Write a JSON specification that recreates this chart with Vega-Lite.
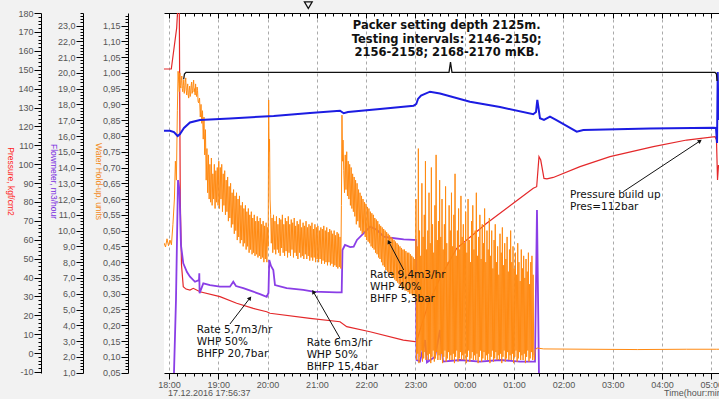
{
"$schema": "https://vega.github.io/schema/vega-lite/v6.json",
"width": 555, "height": 360,
"autosize": {"type": "none"},
"padding": {"left": 164, "top": 13, "right": 0, "bottom": 26},
"background": "#f2f2f2",
"config": {"view": {"fill": "white", "stroke": null}, "font": "Liberation Sans"},
"datasets": {
"pressure": [
{"t":17.899,"p":150.4},{"t":18.047,"p":150.4},{"t":18.156,"p":172.1},{"t":18.179,"p":183.0},{"t":18.209,"p":183.0},{"t":18.229,"p":81.1},{"t":18.254,"p":46.6},{"t":18.29,"p":35.2},{"t":18.345,"p":33.9},{"t":18.426,"p":33.4},{"t":18.493,"p":34.3},{"t":18.629,"p":32.5},{"t":19.034,"p":29.9},{"t":19.373,"p":26.4},{"t":19.71,"p":23.7},{"t":19.982,"p":21.9},{"t":20.049,"p":21.1},{"t":20.86,"p":18.4},{"t":21.469,"p":16.6},{"t":21.605,"p":14.0},{"t":22.077,"p":11.3},{"t":22.753,"p":6.9},{"t":23.024,"p":6.0},{"t":23.091,"p":12.2},{"t":23.254,"p":25.5},{"t":23.497,"p":39.8},{"t":23.836,"p":55.5},{"t":24.444,"p":68.7},{"t":24.984,"p":79.3},{"t":25.389,"p":87.3},{"t":25.458,"p":88.1},{"t":25.505,"p":104.0},{"t":25.54,"p":102.2},{"t":25.606,"p":92.5},{"t":25.667,"p":92.2},{"t":25.795,"p":93.0},{"t":26.337,"p":98.7},{"t":26.945,"p":104.0},{"t":27.824,"p":109.3},{"t":28.501,"p":112.8},{"t":29.075,"p":114.6},{"t":29.105,"p":112.8},{"t":29.126,"p":91.6},{"t":29.146,"p":99.6}
],
"flow": [
{"t":17.899,"f":0.9},{"t":18.101,"f":0.9},{"t":18.142,"f":5.6},{"t":18.183,"f":13.21},{"t":18.213,"f":12.58},{"t":18.243,"f":9.09},{"t":18.29,"f":7.93},{"t":18.365,"f":7.38},{"t":18.426,"f":7.08},{"t":18.527,"f":6.76},{"t":18.609,"f":6.87},{"t":18.615,"f":7.3},{"t":18.621,"f":6.03},{"t":18.696,"f":6.66},{"t":18.832,"f":6.55},{"t":19.034,"f":6.45},{"t":19.237,"f":6.45},{"t":19.304,"f":6.76},{"t":19.359,"f":6.49},{"t":19.507,"f":6.35},{"t":19.71,"f":6.13},{"t":19.846,"f":5.98},{"t":19.982,"f":5.81},{"t":20.018,"f":6.05},{"t":20.034,"f":8.14},{"t":20.069,"f":7.76},{"t":20.116,"f":7.51},{"t":20.15,"f":6.55},{"t":20.387,"f":6.35},{"t":20.724,"f":6.24},{"t":20.927,"f":6.13},{"t":21.402,"f":6.09},{"t":21.503,"f":6.09},{"t":21.519,"f":8.77},{"t":21.57,"f":9.09},{"t":21.677,"f":8.96},{"t":21.746,"f":8.98},{"t":21.813,"f":9.41},{"t":22.083,"f":10.25},{"t":22.219,"f":10.04},{"t":22.355,"f":9.62},{"t":22.489,"f":9.55},{"t":22.761,"f":9.45},{"t":22.963,"f":9.41},{"t":23.01,"f":9.41},{"t":23.02,"f":1.8},{"t":23.091,"f":1.7},{"t":23.193,"f":3.07},{"t":23.233,"f":1.65},{"t":23.396,"f":2.0},{"t":23.497,"f":3.7},{"t":23.558,"f":1.7},{"t":23.903,"f":1.8},{"t":24.308,"f":1.7},{"t":24.714,"f":1.8},{"t":25.12,"f":1.7},{"t":25.424,"f":1.7},{"t":25.464,"f":11.31},{"t":25.505,"f":0.8},{"t":29.095,"f":0.8}
],
"water": [
{"t":17.899,"w":0.461},{"t":17.93,"w":0.448},{"t":17.96,"w":0.474},{"t":17.99,"w":0.452},{"t":18.02,"w":0.47},{"t":18.05,"w":0.455},{"t":18.08,"w":0.52},{"t":18.11,"w":0.6},{"t":18.13,"w":0.72},{"t":18.15,"w":0.66},{"t":18.17,"w":0.88},{"t":18.185,"w":1.005},
{"t":18.2,"w":0.965},{"t":18.21,"w":0.94},{"t":18.22,"w":1.0},{"t":18.23,"w":0.96},{"t":18.24,"w":0.952},{"t":18.25,"w":0.975},{"t":18.26,"w":0.99},{"t":18.27,"w":0.95},{"t":18.28,"w":0.94},{"t":18.29,"w":0.96},{"t":18.3,"w":0.978},{"t":18.31,"w":0.935},{"t":18.32,"w":0.946},{"t":18.33,"w":0.97},{"t":18.34,"w":0.984},{"t":18.35,"w":0.945},{"t":18.36,"w":0.93},{"t":18.37,"w":0.952},{"t":18.38,"w":0.965},{"t":18.39,"w":0.93},{"t":18.4,"w":0.92},{"t":18.41,"w":0.945},{"t":18.42,"w":0.958},{"t":18.43,"w":0.925},{"t":18.44,"w":0.933},{"t":18.45,"w":0.96},{"t":18.46,"w":0.971},{"t":18.47,"w":0.935},{"t":18.48,"w":0.944},{"t":18.49,"w":0.962},{"t":18.5,"w":0.977},{"t":18.51,"w":0.94},{"t":18.52,"w":0.95},{"t":18.53,"w":0.93},{"t":18.54,"w":0.965},{"t":18.55,"w":0.935},{"t":18.56,"w":0.925},{"t":18.57,"w":0.955},{"t":18.58,"w":0.944},{"t":18.59,"w":0.91},{"t":18.6,"w":0.905},
{"t":18.62,"w":0.92},{"t":18.635,"w":0.86},{"t":18.65,"w":0.9},{"t":18.665,"w":0.84},{"t":18.68,"w":0.88},{"t":18.695,"w":0.79},{"t":18.71,"w":0.86},{"t":18.725,"w":0.74},{"t":18.74,"w":0.82},{"t":18.755,"w":0.66},{"t":18.77,"w":0.76},{"t":18.785,"w":0.62},{"t":18.8,"w":0.74},{"t":18.815,"w":0.6},{"t":18.83,"w":0.71},{"t":18.845,"w":0.59},{"t":18.86,"w":0.73},{"t":18.875,"w":0.58},{"t":18.89,"w":0.68},{"t":18.905,"w":0.6},{"t":18.92,"w":0.71},{"t":18.935,"w":0.57},{"t":18.95,"w":0.69},{"t":18.965,"w":0.59},{"t":18.98,"w":0.7},{"t":18.995,"w":0.58},{"t":19.01,"w":0.72},{"t":19.025,"w":0.57},{"t":19.04,"w":0.7},{"t":19.055,"w":0.6},{"t":19.07,"w":0.71},{"t":19.085,"w":0.56},{"t":19.1,"w":0.68},{"t":19.115,"w":0.58},{"t":19.13,"w":0.69},{"t":19.145,"w":0.55},{"t":19.16,"w":0.66},{"t":19.175,"w":0.56},{"t":19.19,"w":0.67},{"t":19.205,"w":0.53},{"t":19.22,"w":0.64},{"t":19.235,"w":0.54},{"t":19.25,"w":0.65},{"t":19.265,"w":0.51},{"t":19.28,"w":0.62},{"t":19.295,"w":0.52},{"t":19.31,"w":0.63},{"t":19.325,"w":0.49},{"t":19.34,"w":0.61},{"t":19.355,"w":0.5},{"t":19.37,"w":0.62},{"t":19.385,"w":0.47},{"t":19.4,"w":0.6},{"t":19.415,"w":0.48},{"t":19.43,"w":0.61},{"t":19.445,"w":0.46},{"t":19.46,"w":0.58},{"t":19.475,"w":0.47},{"t":19.49,"w":0.59},{"t":19.505,"w":0.45},{"t":19.52,"w":0.57},{"t":19.535,"w":0.46},{"t":19.55,"w":0.58},{"t":19.565,"w":0.44},{"t":19.58,"w":0.56},{"t":19.595,"w":0.45},{"t":19.61,"w":0.57},{"t":19.625,"w":0.43},{"t":19.64,"w":0.55},{"t":19.655,"w":0.44},{"t":19.67,"w":0.56},{"t":19.685,"w":0.425},{"t":19.7,"w":0.54},{"t":19.715,"w":0.43},{"t":19.73,"w":0.55},{"t":19.745,"w":0.42},{"t":19.76,"w":0.53},{"t":19.775,"w":0.425},{"t":19.79,"w":0.545},{"t":19.805,"w":0.415},{"t":19.82,"w":0.53},{"t":19.835,"w":0.42},{"t":19.85,"w":0.54},{"t":19.865,"w":0.41},{"t":19.88,"w":0.52},{"t":19.895,"w":0.415},{"t":19.91,"w":0.53},{"t":19.925,"w":0.4},{"t":19.94,"w":0.515},{"t":19.955,"w":0.41},{"t":19.97,"w":0.525},{"t":19.985,"w":0.4},{"t":20.0,"w":0.51},{"t":20.012,"w":0.45},{"t":20.022,"w":0.914},{"t":20.03,"w":0.75},{"t":20.04,"w":0.79},{"t":20.05,"w":0.6},{"t":20.062,"w":0.55},{"t":20.075,"w":0.46},
{"t":20.09,"w":0.54},{"t":20.105,"w":0.43},{"t":20.12,"w":0.55},{"t":20.135,"w":0.44},{"t":20.15,"w":0.53},{"t":20.165,"w":0.425},{"t":20.18,"w":0.545},{"t":20.195,"w":0.44},{"t":20.21,"w":0.52},{"t":20.225,"w":0.43},{"t":20.24,"w":0.54},{"t":20.255,"w":0.42},{"t":20.27,"w":0.535},{"t":20.285,"w":0.445},{"t":20.3,"w":0.55},{"t":20.315,"w":0.43},{"t":20.33,"w":0.52},{"t":20.345,"w":0.42},{"t":20.36,"w":0.54},{"t":20.375,"w":0.435},{"t":20.39,"w":0.53},{"t":20.405,"w":0.415},{"t":20.42,"w":0.545},{"t":20.435,"w":0.43},{"t":20.45,"w":0.52},{"t":20.465,"w":0.42},{"t":20.48,"w":0.535},{"t":20.495,"w":0.44},{"t":20.51,"w":0.525},{"t":20.525,"w":0.415},{"t":20.54,"w":0.54},{"t":20.555,"w":0.43},{"t":20.57,"w":0.515},{"t":20.585,"w":0.42},{"t":20.6,"w":0.53},{"t":20.615,"w":0.41},{"t":20.63,"w":0.52},{"t":20.645,"w":0.43},{"t":20.66,"w":0.535},{"t":20.675,"w":0.415},{"t":20.69,"w":0.51},{"t":20.705,"w":0.42},{"t":20.72,"w":0.525},{"t":20.735,"w":0.41},{"t":20.75,"w":0.515},{"t":20.765,"w":0.425},{"t":20.78,"w":0.53},{"t":20.795,"w":0.41},{"t":20.81,"w":0.51},{"t":20.825,"w":0.42},{"t":20.84,"w":0.52},{"t":20.855,"w":0.405},{"t":20.87,"w":0.515},{"t":20.885,"w":0.415},{"t":20.9,"w":0.525},{"t":20.915,"w":0.405},{"t":20.93,"w":0.505},{"t":20.945,"w":0.415},{"t":20.96,"w":0.52},{"t":20.975,"w":0.4},{"t":20.99,"w":0.51},{"t":21.005,"w":0.41},{"t":21.02,"w":0.515},{"t":21.035,"w":0.4},{"t":21.05,"w":0.5},{"t":21.065,"w":0.41},{"t":21.08,"w":0.51},{"t":21.095,"w":0.395},{"t":21.11,"w":0.505},{"t":21.125,"w":0.405},{"t":21.14,"w":0.515},{"t":21.155,"w":0.395},{"t":21.17,"w":0.5},{"t":21.185,"w":0.4},{"t":21.2,"w":0.51},{"t":21.215,"w":0.39},{"t":21.23,"w":0.495},{"t":21.245,"w":0.4},{"t":21.26,"w":0.505},{"t":21.275,"w":0.39},{"t":21.29,"w":0.5},{"t":21.305,"w":0.395},{"t":21.32,"w":0.49},{"t":21.335,"w":0.385},{"t":21.35,"w":0.5},{"t":21.365,"w":0.39},{"t":21.38,"w":0.485},{"t":21.395,"w":0.385},{"t":21.41,"w":0.495},{"t":21.425,"w":0.38},{"t":21.44,"w":0.49},{"t":21.455,"w":0.385},{"t":21.47,"w":0.48},{"t":21.485,"w":0.38},{"t":21.497,"w":0.58},{"t":21.509,"w":0.866},{"t":21.52,"w":0.72},{"t":21.53,"w":0.787},{"t":21.545,"w":0.69},
{"t":21.56,"w":0.62},{"t":21.575,"w":0.74},{"t":21.59,"w":0.63},{"t":21.605,"w":0.75},{"t":21.62,"w":0.61},{"t":21.635,"w":0.72},{"t":21.65,"w":0.6},{"t":21.665,"w":0.71},{"t":21.68,"w":0.58},{"t":21.695,"w":0.7},{"t":21.71,"w":0.57},{"t":21.725,"w":0.68},{"t":21.74,"w":0.56},{"t":21.755,"w":0.67},{"t":21.77,"w":0.545},{"t":21.785,"w":0.66},{"t":21.8,"w":0.52},{"t":21.815,"w":0.65},{"t":21.83,"w":0.53},{"t":21.845,"w":0.63},{"t":21.86,"w":0.51},{"t":21.875,"w":0.62},{"t":21.89,"w":0.5},{"t":21.905,"w":0.61},{"t":21.92,"w":0.49},{"t":21.935,"w":0.6},{"t":21.95,"w":0.495},{"t":21.965,"w":0.59},{"t":21.98,"w":0.48},{"t":21.995,"w":0.585},{"t":22.01,"w":0.47},{"t":22.025,"w":0.575},{"t":22.04,"w":0.465},{"t":22.055,"w":0.57},{"t":22.07,"w":0.46},{"t":22.085,"w":0.56},{"t":22.1,"w":0.45},{"t":22.115,"w":0.555},{"t":22.13,"w":0.445},{"t":22.145,"w":0.55},{"t":22.16,"w":0.44},{"t":22.175,"w":0.54},{"t":22.19,"w":0.43},{"t":22.205,"w":0.535},{"t":22.22,"w":0.425},{"t":22.235,"w":0.53},{"t":22.25,"w":0.415},{"t":22.265,"w":0.52},{"t":22.28,"w":0.41},{"t":22.295,"w":0.515},{"t":22.31,"w":0.4},{"t":22.325,"w":0.51},{"t":22.34,"w":0.39},{"t":22.355,"w":0.505},{"t":22.37,"w":0.385},{"t":22.385,"w":0.5},{"t":22.4,"w":0.375},{"t":22.415,"w":0.495},{"t":22.43,"w":0.37},{"t":22.445,"w":0.49},{"t":22.46,"w":0.365},{"t":22.475,"w":0.485},{"t":22.49,"w":0.36},{"t":22.505,"w":0.48},{"t":22.52,"w":0.355},{"t":22.535,"w":0.475},{"t":22.55,"w":0.35},{"t":22.565,"w":0.47},{"t":22.58,"w":0.345},{"t":22.595,"w":0.465},{"t":22.61,"w":0.34},{"t":22.625,"w":0.46},{"t":22.64,"w":0.335},{"t":22.655,"w":0.455},{"t":22.67,"w":0.33},{"t":22.685,"w":0.45},{"t":22.7,"w":0.325},{"t":22.715,"w":0.445},{"t":22.73,"w":0.32},{"t":22.745,"w":0.44},{"t":22.76,"w":0.315},{"t":22.775,"w":0.44},{"t":22.79,"w":0.31},{"t":22.805,"w":0.435},{"t":22.82,"w":0.31},{"t":22.835,"w":0.43},{"t":22.85,"w":0.305},{"t":22.865,"w":0.43},{"t":22.88,"w":0.3},{"t":22.895,"w":0.425},{"t":22.91,"w":0.3},{"t":22.925,"w":0.42},{"t":22.94,"w":0.295},{"t":22.955,"w":0.415},{"t":22.97,"w":0.295},{"t":22.985,"w":0.41},{"t":23.0,"w":0.29},
{"t":23.01,"w":0.6},{"t":23.022,"w":0.09},{"t":23.034,"w":0.45},{"t":23.046,"w":0.11},{"t":23.058,"w":0.76},{"t":23.07,"w":0.08},{"t":23.082,"w":0.5},{"t":23.094,"w":0.1},{"t":23.106,"w":0.42},{"t":23.118,"w":0.12},{"t":23.13,"w":0.65},{"t":23.142,"w":0.085},{"t":23.154,"w":0.48},{"t":23.166,"w":0.095},{"t":23.178,"w":0.55},{"t":23.19,"w":0.115},{"t":23.202,"w":0.72},{"t":23.214,"w":0.09},{"t":23.226,"w":0.44},{"t":23.238,"w":0.105},
{"t":23.25,"w":0.5},{"t":23.262,"w":0.09},{"t":23.274,"w":0.62},{"t":23.286,"w":0.11},{"t":23.298,"w":0.46},{"t":23.31,"w":0.08},{"t":23.322,"w":0.7},{"t":23.334,"w":0.1},{"t":23.346,"w":0.52},{"t":23.358,"w":0.12},{"t":23.37,"w":0.43},{"t":23.382,"w":0.085},{"t":23.394,"w":0.58},{"t":23.406,"w":0.095},{"t":23.418,"w":0.74},{"t":23.43,"w":0.115},{"t":23.442,"w":0.47},{"t":23.454,"w":0.09},{"t":23.466,"w":0.53},{"t":23.478,"w":0.105},
{"t":23.49,"w":0.66},{"t":23.502,"w":0.09},{"t":23.514,"w":0.48},{"t":23.526,"w":0.11},{"t":23.538,"w":0.6},{"t":23.55,"w":0.08},{"t":23.562,"w":0.44},{"t":23.574,"w":0.1},{"t":23.586,"w":0.52},{"t":23.598,"w":0.12},{"t":23.61,"w":0.64},{"t":23.622,"w":0.085},{"t":23.634,"w":0.46},{"t":23.646,"w":0.095},{"t":23.658,"w":0.4},{"t":23.67,"w":0.115},{"t":23.682,"w":0.58},{"t":23.694,"w":0.09},{"t":23.706,"w":0.5},{"t":23.718,"w":0.105},
{"t":23.73,"w":0.62},{"t":23.742,"w":0.09},{"t":23.754,"w":0.45},{"t":23.766,"w":0.11},{"t":23.778,"w":0.55},{"t":23.79,"w":0.08},{"t":23.802,"w":0.68},{"t":23.814,"w":0.1},{"t":23.826,"w":0.42},{"t":23.838,"w":0.12},{"t":23.85,"w":0.5},{"t":23.862,"w":0.085},{"t":23.874,"w":0.57},{"t":23.886,"w":0.095},{"t":23.898,"w":0.44},{"t":23.91,"w":0.115},{"t":23.922,"w":0.61},{"t":23.934,"w":0.09},{"t":23.946,"w":0.48},{"t":23.958,"w":0.105},
{"t":23.97,"w":0.52},{"t":23.982,"w":0.09},{"t":23.994,"w":0.46},{"t":24.006,"w":0.11},{"t":24.018,"w":0.56},{"t":24.03,"w":0.08},{"t":24.042,"w":0.43},{"t":24.054,"w":0.1},{"t":24.066,"w":0.6},{"t":24.078,"w":0.12},{"t":24.09,"w":0.47},{"t":24.102,"w":0.085},{"t":24.114,"w":0.4},{"t":24.126,"w":0.095},{"t":24.138,"w":0.53},{"t":24.15,"w":0.115},{"t":24.162,"w":0.58},{"t":24.174,"w":0.09},{"t":24.186,"w":0.44},{"t":24.198,"w":0.105},
{"t":24.21,"w":0.5},{"t":24.222,"w":0.09},{"t":24.234,"w":0.62},{"t":24.246,"w":0.11},{"t":24.258,"w":0.42},{"t":24.27,"w":0.08},{"t":24.282,"w":0.48},{"t":24.294,"w":0.1},{"t":24.306,"w":0.55},{"t":24.318,"w":0.12},{"t":24.33,"w":0.41},{"t":24.342,"w":0.085},{"t":24.354,"w":0.52},{"t":24.366,"w":0.095},{"t":24.378,"w":0.46},{"t":24.39,"w":0.115},{"t":24.402,"w":0.57},{"t":24.414,"w":0.09},{"t":24.426,"w":0.4},{"t":24.438,"w":0.105},
{"t":24.45,"w":0.5},{"t":24.462,"w":0.09},{"t":24.474,"w":0.44},{"t":24.486,"w":0.11},{"t":24.498,"w":0.54},{"t":24.51,"w":0.08},{"t":24.522,"w":0.42},{"t":24.534,"w":0.1},{"t":24.546,"w":0.5},{"t":24.558,"w":0.12},{"t":24.57,"w":0.38},{"t":24.582,"w":0.085},{"t":24.594,"w":0.47},{"t":24.606,"w":0.095},{"t":24.618,"w":0.52},{"t":24.63,"w":0.115},{"t":24.642,"w":0.4},{"t":24.654,"w":0.09},{"t":24.666,"w":0.45},{"t":24.678,"w":0.105},
{"t":24.69,"w":0.36},{"t":24.702,"w":0.09},{"t":24.714,"w":0.49},{"t":24.726,"w":0.11},{"t":24.738,"w":0.43},{"t":24.75,"w":0.08},{"t":24.762,"w":0.51},{"t":24.774,"w":0.1},{"t":24.786,"w":0.39},{"t":24.798,"w":0.12},{"t":24.81,"w":0.46},{"t":24.822,"w":0.085},{"t":24.834,"w":0.41},{"t":24.846,"w":0.095},{"t":24.858,"w":0.48},{"t":24.87,"w":0.115},{"t":24.882,"w":0.37},{"t":24.894,"w":0.09},{"t":24.906,"w":0.44},{"t":24.918,"w":0.105},
{"t":24.93,"w":0.5},{"t":24.942,"w":0.09},{"t":24.954,"w":0.4},{"t":24.966,"w":0.11},{"t":24.978,"w":0.45},{"t":24.99,"w":0.08},{"t":25.002,"w":0.38},{"t":25.014,"w":0.1},{"t":25.026,"w":0.43},{"t":25.038,"w":0.12},{"t":25.05,"w":0.36},{"t":25.062,"w":0.085},{"t":25.074,"w":0.46},{"t":25.086,"w":0.095},{"t":25.098,"w":0.4},{"t":25.11,"w":0.115},{"t":25.122,"w":0.34},{"t":25.134,"w":0.09},{"t":25.146,"w":0.44},{"t":25.158,"w":0.105},
{"t":25.17,"w":0.38},{"t":25.182,"w":0.09},{"t":25.194,"w":0.42},{"t":25.206,"w":0.11},{"t":25.218,"w":0.35},{"t":25.23,"w":0.08},{"t":25.242,"w":0.41},{"t":25.254,"w":0.1},{"t":25.266,"w":0.37},{"t":25.278,"w":0.12},{"t":25.29,"w":0.43},{"t":25.302,"w":0.085},{"t":25.314,"w":0.33},{"t":25.326,"w":0.095},{"t":25.338,"w":0.4},{"t":25.35,"w":0.115},{"t":25.362,"w":0.42},{"t":25.374,"w":0.09},{"t":25.386,"w":0.36},{"t":25.398,"w":0.105},
{"t":25.41,"w":0.09},{"t":25.425,"w":0.12},{"t":25.46,"w":0.128},{"t":25.6,"w":0.125},{"t":26.5,"w":0.124},{"t":27.5,"w":0.123},{"t":28.5,"w":0.124},{"t":29.1,"w":0.124},{"t":29.156,"w":0.124}
],
"temperature": [
{"t":17.899,"v":73.12},{"t":18.02,"v":73.12},{"t":18.101,"v":72.91},{"t":18.176,"v":72.28},{"t":18.223,"v":72.6},{"t":18.304,"v":73.54},{"t":18.426,"v":74.41},{"t":18.629,"v":74.81},{"t":19.237,"v":75.05},{"t":20.124,"v":75.44},{"t":20.86,"v":75.91},{"t":21.469,"v":76.28},{"t":21.544,"v":75.87},{"t":21.631,"v":76.07},{"t":22.28,"v":76.55},{"t":22.963,"v":77.07},{"t":23.016,"v":77.34},{"t":23.051,"v":78.13},{"t":23.112,"v":78.68},{"t":23.294,"v":79.28},{"t":23.497,"v":78.99},{"t":24.105,"v":77.7},{"t":24.714,"v":76.86},{"t":25.389,"v":75.71},{"t":25.444,"v":76.07},{"t":25.471,"v":77.97},{"t":25.495,"v":76.7},{"t":25.525,"v":75.08},{"t":25.606,"v":74.81},{"t":25.728,"v":75.33},{"t":25.85,"v":74.81},{"t":26.27,"v":72.96},{"t":26.404,"v":73.23},{"t":27.757,"v":73.47},{"t":29.041,"v":73.59},{"t":29.095,"v":73.55},{"t":29.116,"v":71.17},{"t":29.13,"v":82.39},{"t":29.146,"v":74.81}
],
"bracket": [
{"t":18.298,"v":81.24},{"t":18.314,"v":82.08},{"t":18.345,"v":82.34},{"t":23.68,"v":82.34},{"t":23.71,"v":83.97},{"t":23.74,"v":82.34},{"t":29.075,"v":82.34},{"t":29.105,"v":82.08},{"t":29.116,"v":80.97}
],
"arrows": [
{"id":"a1","t1":19.237,"v1":42.58,"t2":19.643,"v2":46.69},
{"id":"a2","t1":21.469,"v1":40.32,"t2":20.927,"v2":47.68},
{"id":"a3","t1":22.761,"v1":51.11,"t2":22.457,"v2":55.58},
{"id":"a4","t1":27.215,"v1":63.48,"t2":28.771,"v2":71.49}
],
"notes": [
{"t":18.562,"v":41.63,"label":"Rate 5,7m3/hr"},{"t":18.562,"v":39.74,"label":"WHP 50%"},{"t":18.562,"v":37.84,"label":"BHFP 20,7bar"},
{"t":20.793,"v":39.58,"label":"Rate 6m3/hr"},{"t":20.793,"v":37.68,"label":"WHP 50%"},{"t":20.793,"v":35.79,"label":"BHFP 15,4bar"},
{"t":22.077,"v":50.32,"label":"Rate 9,4m3/hr"},{"t":22.077,"v":48.43,"label":"WHP 40%"},{"t":22.077,"v":46.53,"label":"BHFP 5,3bar"},
{"t":26.134,"v":62.96,"label":"Pressure build up"},{"t":26.134,"v":61.06,"label":"Pres=112bar"}
],
"heading": [
{"t":23.633,"v":89.58,"label":"Packer setting depth 2125m."},{"t":23.633,"v":87.48,"label":"Testing intervals:  2146-2150;"},{"t":23.633,"v":85.38,"label":"2156-2158; 2168-2170 mKB."}
],
"footer": [
{"t":17.98,"v":31.68,"label":"17.12.2016 17:56:37"},{"t":28.04,"v":31.68,"label":"Time(hour:min)"}
],
"marker": [{"t":20.826,"v":92.95}]
},
"layer": [
{
"data": {"name": "pressure"},
"mark": {"type": "line", "color": "#e4282a", "strokeWidth": 1.2, "clip": true},
"encoding": {
"x": {"field": "t", "type": "quantitative", "scale": {"domain": [17.899, 29.156], "nice": false, "zero": false},
"axis": {"orient": "bottom", "title": null,
"values": [18,18.1667,18.3333,18.5,18.6667,18.8333,19,19.1667,19.3333,19.5,19.6667,19.8333,20,20.1667,20.3333,20.5,20.6667,20.8333,21,21.1667,21.3333,21.5,21.6667,21.8333,22,22.1667,22.3333,22.5,22.6667,22.8333,23,23.1667,23.3333,23.5,23.6667,23.8333,24,24.1667,24.3333,24.5,24.6667,24.8333,25,25.1667,25.3333,25.5,25.6667,25.8333,26,26.1667,26.3333,26.5,26.6667,26.8333,27,27.1667,27.3333,27.5,27.6667,27.8333,28,28.1667,28.3333,28.5,28.6667,28.8333,29],
"labelExpr": "abs(datum.value - round(datum.value)) < 0.01 ? pad(toString(round(datum.value) % 24), 2, '0', 'left') + ':00' : ''",
"labelOverlap": false, "labelFlush": false, "labelColor": "#555", "labelFontSize": 9, "labelPadding": 1,
"tickSize": {"condition": {"test": "abs(datum.value - round(datum.value)) < 0.01", "value": 6}, "value": 3},
"tickColor": "#000", "domainColor": "#000",
"grid": true, "gridColor": "#aaaaaa", "gridDash": [3, 3],
"gridOpacity": {"condition": {"test": "abs(datum.value - round(datum.value)) < 0.01", "value": 1}, "value": 0}}},
"y": {"field": "p", "type": "quantitative", "scale": {"domain": [-10.53, 180.05], "nice": false, "zero": false},
"axis": {"orient": "left", "offset": 123, "grid": false,
"values": [-10,-8,-6,-4,-2,0,2,4,6,8,10,12,14,16,18,20,22,24,26,28,30,32,34,36,38,40,42,44,46,48,50,52,54,56,58,60,62,64,66,68,70,72,74,76,78,80,82,84,86,88,90,92,94,96,98,100,102,104,106,108,110,112,114,116,118,120,122,124,126,128,130,132,134,136,138,140,142,144,146,148,150,152,154,156,158,160,162,164,166,168,170,172,174,176,178,180],
"labelExpr": "datum.value % 10 == 0 ? toString(datum.value) : ''",
"labelOverlap": false, "labelFlush": false, "labelColor": "#555", "labelFontSize": 9, "labelPadding": 1,
"tickSize": {"condition": {"test": "datum.value % 10 == 0", "value": 7}, "value": 3},
"tickColor": "#000", "domainColor": "#000",
"title": "Pressure, kgf/cm2", "titleColor": "#ff1e1e", "titleFontSize": 8.5, "titleFontWeight": "normal", "titleAngle": 90, "titleX": -31, "titleY": 168, "titleAlign": "center", "titleBaseline": "middle"}}
}
},
{
"data": {"name": "flow"},
"mark": {"type": "line", "color": "#8a3ee6", "strokeWidth": 1.8, "clip": true},
"encoding": {
"x": {"field": "t", "type": "quantitative", "scale": {"domain": [17.899, 29.156], "nice": false, "zero": false},
"axis": {"orient": "top", "title": null, "labels": false, "grid": false,
"values": [18,18.1667,18.3333,18.5,18.6667,18.8333,19,19.1667,19.3333,19.5,19.6667,19.8333,20,20.1667,20.3333,20.5,20.6667,20.8333,21,21.1667,21.3333,21.5,21.6667,21.8333,22,22.1667,22.3333,22.5,22.6667,22.8333,23,23.1667,23.3333,23.5,23.6667,23.8333,24,24.1667,24.3333,24.5,24.6667,24.8333,25,25.1667,25.3333,25.5,25.6667,25.8333,26,26.1667,26.3333,26.5,26.6667,26.8333,27,27.1667,27.3333,27.5,27.6667,27.8333,28,28.1667,28.3333,28.5,28.6667,28.8333,29],
"tickSize": {"condition": {"test": "abs(datum.value - round(datum.value)) < 0.01", "value": -5}, "value": -3},
"tickColor": "#000", "domainColor": "#000"}},
"y": {"field": "f", "type": "quantitative", "scale": {"domain": [0.975, 23.8], "nice": false, "zero": false},
"axis": {"orient": "left", "offset": 81, "grid": false,
"values": [1,1.2,1.4,1.6,1.8,2,2.2,2.4,2.6,2.8,3,3.2,3.4,3.6,3.8,4,4.2,4.4,4.6,4.8,5,5.2,5.4,5.6,5.8,6,6.2,6.4,6.6,6.8,7,7.2,7.4,7.6,7.8,8,8.2,8.4,8.6,8.8,9,9.2,9.4,9.6,9.8,10,10.2,10.4,10.6,10.8,11,11.2,11.4,11.6,11.8,12,12.2,12.4,12.6,12.8,13,13.2,13.4,13.6,13.8,14,14.2,14.4,14.6,14.8,15,15.2,15.4,15.6,15.8,16,16.2,16.4,16.6,16.8,17,17.2,17.4,17.6,17.8,18,18.2,18.4,18.6,18.8,19,19.2,19.4,19.6,19.8,20,20.2,20.4,20.6,20.8,21,21.2,21.4,21.6,21.8,22,22.2,22.4,22.6,22.8,23,23.2,23.4,23.6,23.8],
"labelExpr": "abs(datum.value - round(datum.value)) < 0.001 ? replace(format(datum.value, '.1f'), '.', ',') : ''",
"labelOverlap": false, "labelFlush": false, "labelColor": "#555", "labelFontSize": 9, "labelPadding": 1,
"tickSize": {"condition": {"test": "abs(datum.value - round(datum.value)) < 0.001", "value": 7}, "value": 3},
"tickColor": "#000", "domainColor": "#000",
"title": "Flowmeter, m3/hour", "titleColor": "#7b2fe0", "titleFontSize": 8.5, "titleFontWeight": "normal", "titleAngle": 90, "titleX": -30, "titleY": 168, "titleAlign": "center", "titleBaseline": "middle"}}
}
},
{
"data": {"name": "water"},
"mark": {"type": "line", "color": "#ff8a12", "strokeWidth": 1, "clip": true},
"encoding": {
"x": {"field": "t", "type": "quantitative", "scale": {"domain": [17.899, 29.156], "nice": false, "zero": false}, "axis": null},
"y": {"field": "w", "type": "quantitative", "scale": {"domain": [0.0487, 1.1897], "nice": false, "zero": false},
"axis": {"orient": "left", "offset": 36, "grid": false,
"values": [0.05,0.06,0.07,0.08,0.09,0.1,0.11,0.12,0.13,0.14,0.15,0.16,0.17,0.18,0.19,0.2,0.21,0.22,0.23,0.24,0.25,0.26,0.27,0.28,0.29,0.3,0.31,0.32,0.33,0.34,0.35,0.36,0.37,0.38,0.39,0.4,0.41,0.42,0.43,0.44,0.45,0.46,0.47,0.48,0.49,0.5,0.51,0.52,0.53,0.54,0.55,0.56,0.57,0.58,0.59,0.6,0.61,0.62,0.63,0.64,0.65,0.66,0.67,0.68,0.69,0.7,0.71,0.72,0.73,0.74,0.75,0.76,0.77,0.78,0.79,0.8,0.81,0.82,0.83,0.84,0.85,0.86,0.87,0.88,0.89,0.9,0.91,0.92,0.93,0.94,0.95,0.96,0.97,0.98,0.99,1,1.01,1.02,1.03,1.04,1.05,1.06,1.07,1.08,1.09,1.1,1.11,1.12,1.13,1.14,1.15,1.16,1.17,1.18],
"labelExpr": "abs(datum.value * 20 - round(datum.value * 20)) < 0.001 ? replace(format(datum.value, '.2f'), '.', ',') : ''",
"labelOverlap": false, "labelFlush": false, "labelColor": "#555", "labelFontSize": 9, "labelPadding": 1,
"tickSize": {"condition": {"test": "abs(datum.value * 20 - round(datum.value * 20)) < 0.001", "value": 7}, "value": 3},
"tickColor": "#000", "domainColor": "#000",
"title": "Water Hold-up, units", "titleColor": "#f28a1c", "titleFontSize": 8.5, "titleFontWeight": "normal", "titleAngle": 90, "titleX": -30, "titleY": 168, "titleAlign": "center", "titleBaseline": "middle"}}
}
},
{
"layer": [
{
"data": {"name": "temperature"},
"mark": {"type": "line", "color": "#1c1ce2", "strokeWidth": 2, "clip": true},
"encoding": {
"x": {"field": "t", "type": "quantitative", "scale": {"domain": [17.899, 29.156], "nice": false, "zero": false}, "axis": null},
"y": {"field": "v", "type": "quantitative", "scale": {"domain": [34.84, 91.71], "nice": false, "zero": false},
"axis": {"orient": "left", "offset": 0,
"values": [35,36,37,38,39,40,41,42,43,44,45,46,47,48,49,50,51,52,53,54,55,56,57,58,59,60,61,62,63,64,65,66,67,68,69,70,71,72,73,74,75,76,77,78,79,80,81,82,83,84,85,86,87,88,89,90,91],
"labelExpr": "datum.value % 5 == 0 ? toString(datum.value) : ''",
"labelOverlap": false, "labelFlush": false, "labelColor": "#555", "labelFontSize": 9, "labelPadding": 1,
"tickSize": {"condition": {"test": "datum.value % 5 == 0", "value": 6}, "value": 3},
"tickColor": "#000", "domainColor": "#000",
"grid": true, "gridColor": "#aaaaaa", "gridDash": [3, 3],
"gridOpacity": {"condition": {"test": "datum.value % 5 == 0 && datum.value > 35", "value": 1}, "value": 0},
"title": "Temperature, deg C", "titleColor": "#1e1ef0", "titleFontSize": 8.5, "titleFontWeight": "normal", "titleAngle": 90, "titleX": -24, "titleY": 168, "titleAlign": "center", "titleBaseline": "middle"}}
}
},
{
"data": {"name": "bracket"},
"mark": {"type": "line", "color": "#111111", "strokeWidth": 1.3},
"encoding": {
"x": {"field": "t", "type": "quantitative", "scale": {"domain": [17.899, 29.156], "nice": false, "zero": false}, "axis": null},
"y": {"field": "v", "type": "quantitative", "scale": {"domain": [34.84, 91.71], "nice": false, "zero": false}, "axis": null}
}
},
{
"data": {"name": "arrows"},
"mark": {"type": "rule", "color": "#111111", "strokeWidth": 1},
"encoding": {
"x": {"field": "t1", "type": "quantitative", "scale": {"domain": [17.899, 29.156], "nice": false, "zero": false}, "axis": null},
"y": {"field": "v1", "type": "quantitative", "scale": {"domain": [34.84, 91.71], "nice": false, "zero": false}, "axis": null},
"x2": {"field": "t2"},
"y2": {"field": "v2"}
}
},
{
"data": {"name": "arrows"},
"transform": [{"filter": "datum.id == 'a1'"}],
"mark": {"type": "point", "shape": "triangle-up", "angle": 38, "size": 22, "filled": true, "color": "#111111", "opacity": 1},
"encoding": {
"x": {"field": "t2", "type": "quantitative", "scale": {"domain": [17.899, 29.156], "nice": false, "zero": false}, "axis": null},
"y": {"field": "v2", "type": "quantitative", "scale": {"domain": [34.84, 91.71], "nice": false, "zero": false}, "axis": null}
}
},
{
"data": {"name": "arrows"},
"transform": [{"filter": "datum.id == 'a2'"}],
"mark": {"type": "point", "shape": "triangle-up", "angle": 330, "size": 22, "filled": true, "color": "#111111", "opacity": 1},
"encoding": {
"x": {"field": "t2", "type": "quantitative", "scale": {"domain": [17.899, 29.156], "nice": false, "zero": false}, "axis": null},
"y": {"field": "v2", "type": "quantitative", "scale": {"domain": [34.84, 91.71], "nice": false, "zero": false}, "axis": null}
}
},
{
"data": {"name": "arrows"},
"transform": [{"filter": "datum.id == 'a3'"}],
"mark": {"type": "point", "shape": "triangle-up", "angle": 332, "size": 22, "filled": true, "color": "#111111", "opacity": 1},
"encoding": {
"x": {"field": "t2", "type": "quantitative", "scale": {"domain": [17.899, 29.156], "nice": false, "zero": false}, "axis": null},
"y": {"field": "v2", "type": "quantitative", "scale": {"domain": [34.84, 91.71], "nice": false, "zero": false}, "axis": null}
}
},
{
"data": {"name": "arrows"},
"transform": [{"filter": "datum.id == 'a4'"}],
"mark": {"type": "point", "shape": "triangle-up", "angle": 56, "size": 22, "filled": true, "color": "#111111", "opacity": 1},
"encoding": {
"x": {"field": "t2", "type": "quantitative", "scale": {"domain": [17.899, 29.156], "nice": false, "zero": false}, "axis": null},
"y": {"field": "v2", "type": "quantitative", "scale": {"domain": [34.84, 91.71], "nice": false, "zero": false}, "axis": null}
}
},
{
"data": {"name": "notes"},
"mark": {"type": "text", "align": "left", "baseline": "middle", "font": "DejaVu Sans", "fontSize": 10.5, "color": "#111111"},
"encoding": {
"x": {"field": "t", "type": "quantitative", "scale": {"domain": [17.899, 29.156], "nice": false, "zero": false}, "axis": null},
"y": {"field": "v", "type": "quantitative", "scale": {"domain": [34.84, 91.71], "nice": false, "zero": false}, "axis": null},
"text": {"field": "label"}
}
},
{
"data": {"name": "heading"},
"mark": {"type": "text", "align": "center", "baseline": "middle", "font": "DejaVu Sans", "fontSize": 11.5, "fontWeight": "bold", "color": "#111111"},
"encoding": {
"x": {"field": "t", "type": "quantitative", "scale": {"domain": [17.899, 29.156], "nice": false, "zero": false}, "axis": null},
"y": {"field": "v", "type": "quantitative", "scale": {"domain": [34.84, 91.71], "nice": false, "zero": false}, "axis": null},
"text": {"field": "label"}
}
},
{
"data": {"name": "footer"},
"mark": {"type": "text", "align": "left", "baseline": "middle", "font": "Liberation Sans", "fontSize": 9, "color": "#555555"},
"encoding": {
"x": {"field": "t", "type": "quantitative", "scale": {"domain": [17.899, 29.156], "nice": false, "zero": false}, "axis": null},
"y": {"field": "v", "type": "quantitative", "scale": {"domain": [34.84, 91.71], "nice": false, "zero": false}, "axis": null},
"text": {"field": "label"}
}
},
{
"data": {"name": "marker"},
"mark": {"type": "point", "shape": "triangle-down", "size": 60, "filled": false, "color": "#111111", "strokeWidth": 1.3, "opacity": 1},
"encoding": {
"x": {"field": "t", "type": "quantitative", "scale": {"domain": [17.899, 29.156], "nice": false, "zero": false}, "axis": null},
"y": {"field": "v", "type": "quantitative", "scale": {"domain": [34.84, 91.71], "nice": false, "zero": false}, "axis": null}
}
}
]
}
],
"resolve": {"scale": {"y": "independent"}, "axis": {"x": "independent"}}
}
